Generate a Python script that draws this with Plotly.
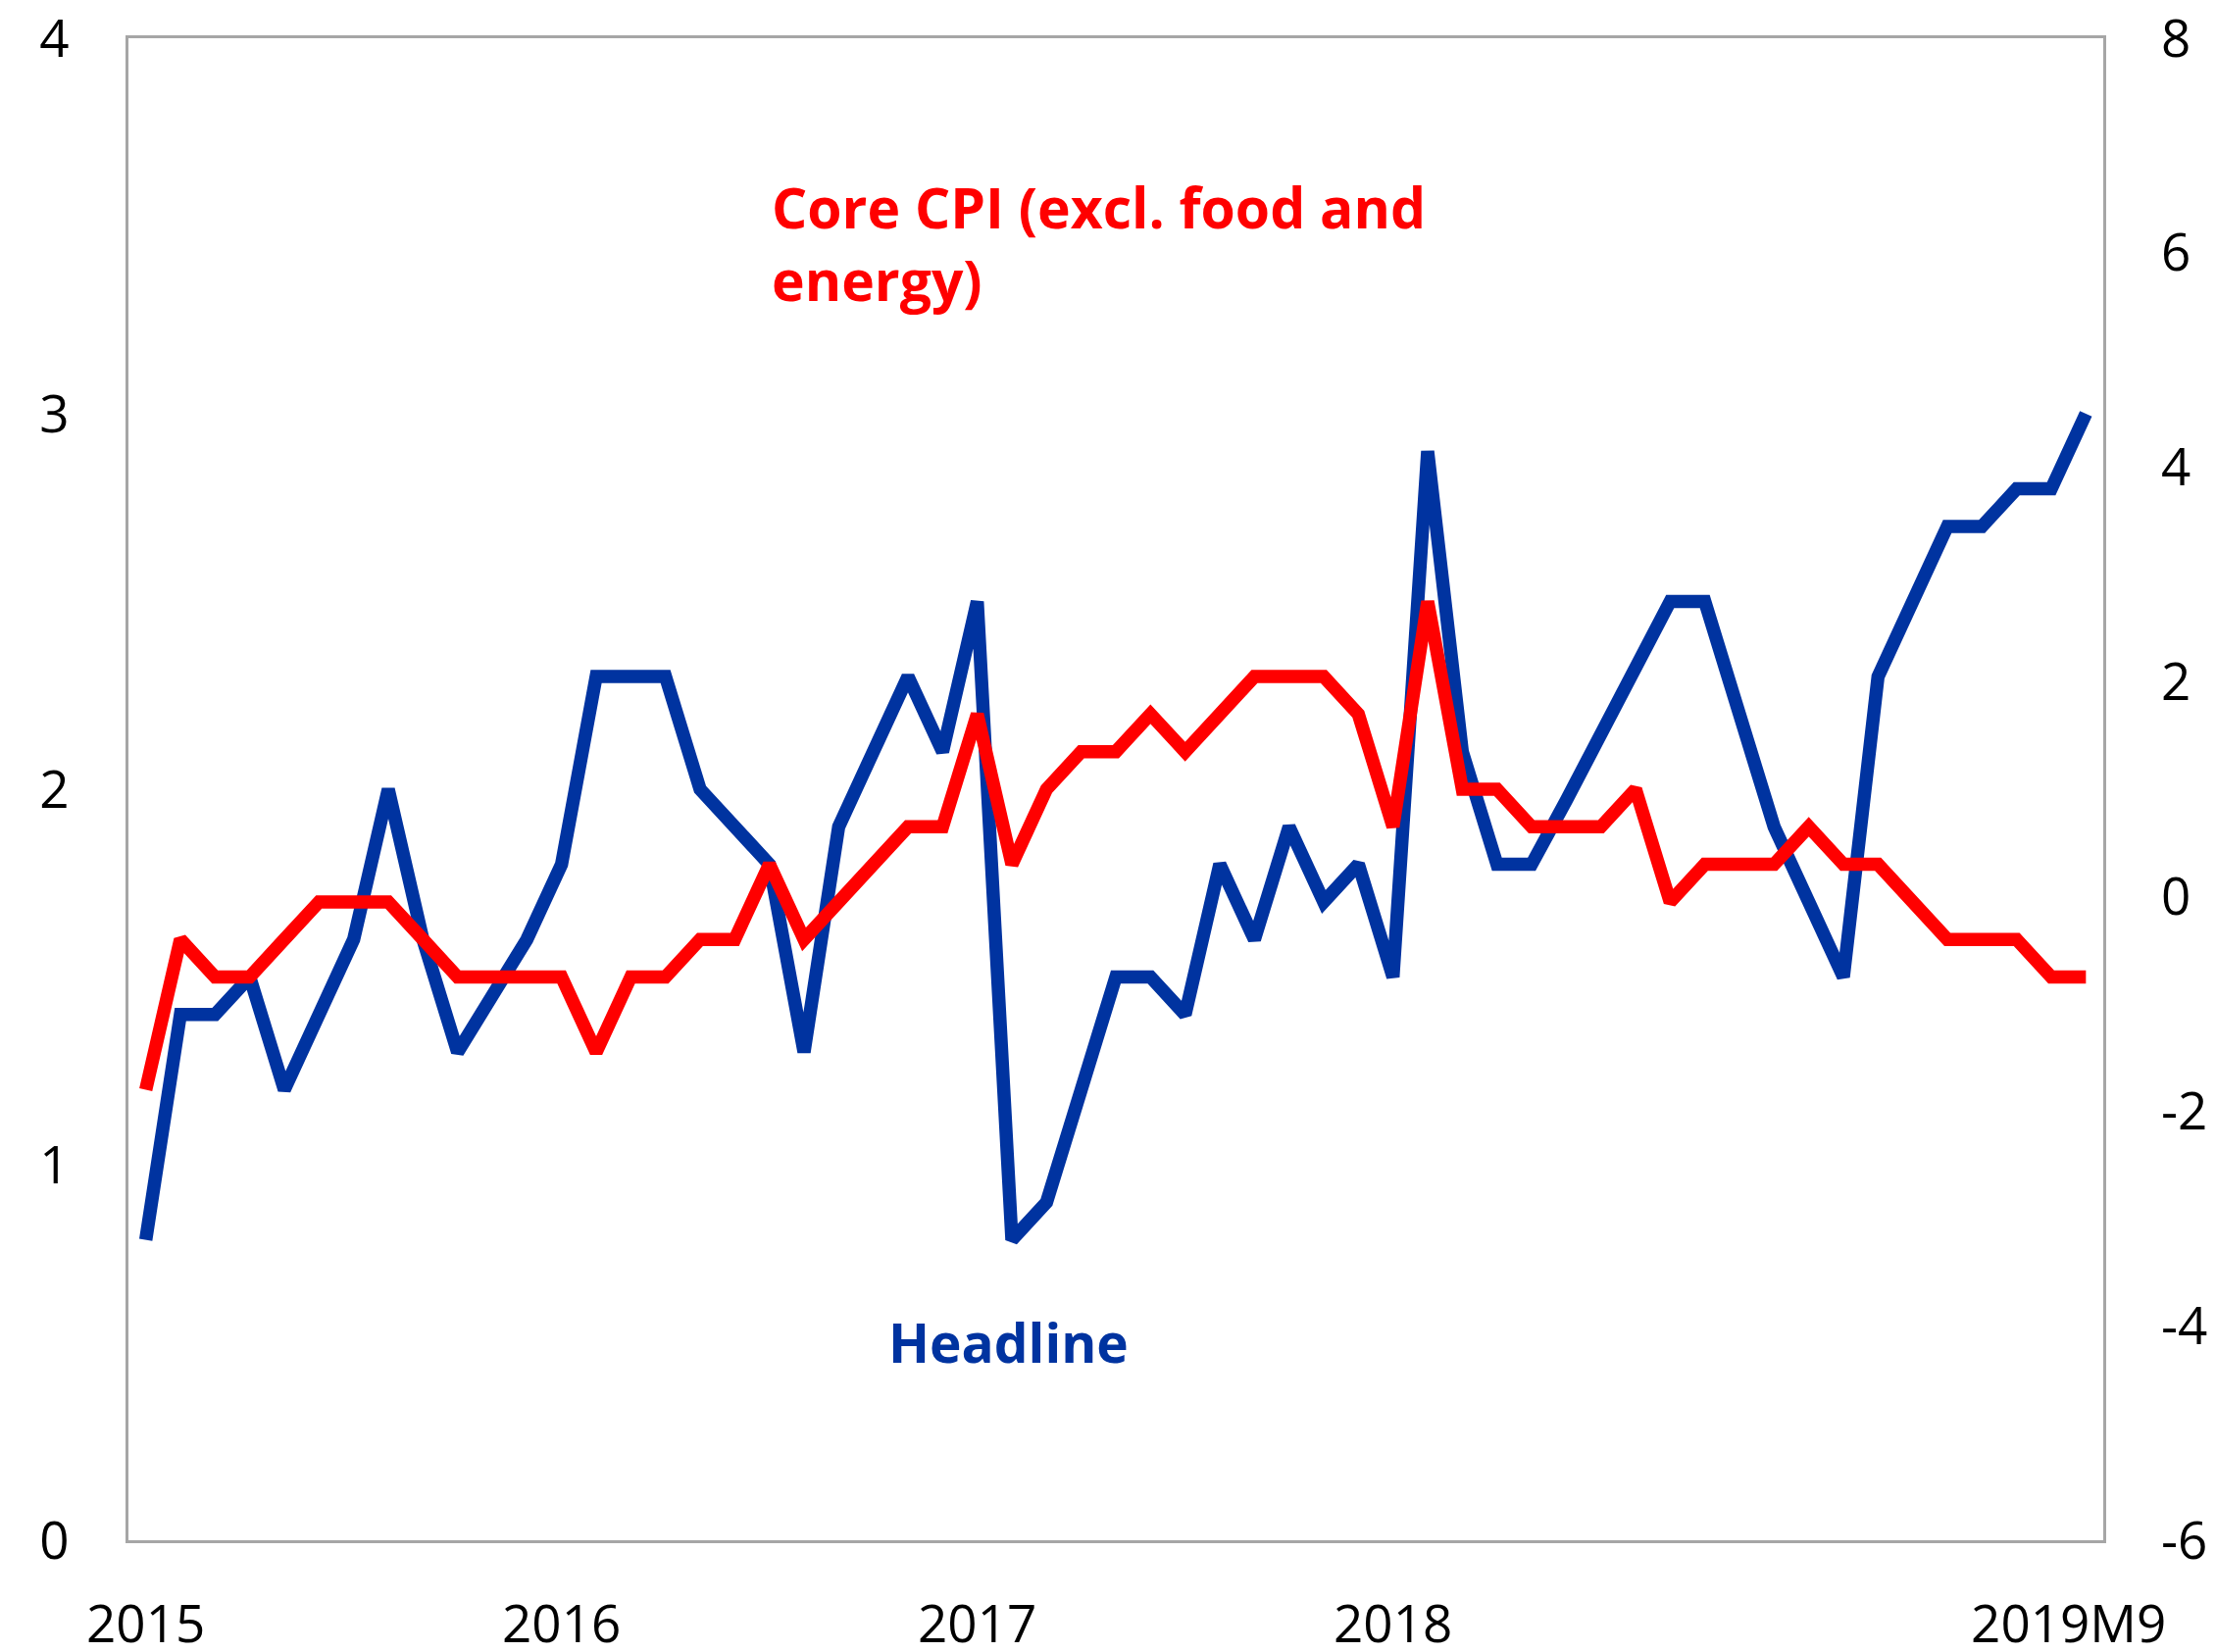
import plotly.graph_objects as go

# monthly, 2015M1 .. 2019M9
MONTHS = [f"{y}M{m}" for y in range(2015, 2020) for m in range(1, 13)][:57]

HEADLINE = [
    0.8, 1.4, 1.4, 1.5, 1.2, 1.4, 1.6, 2.0, 1.6, 1.3, 1.45, 1.6,
    1.8, 2.3, 2.3, 2.3, 2.0, 1.9, 1.8, 1.3, 1.9, 2.1, 2.3, 2.1,
    2.5, 0.8, 0.9, 1.2, 1.5, 1.5, 1.4, 1.8, 1.6, 1.9, 1.7, 1.8,
    1.5, 2.9, 2.1, 1.8, 1.8, 1.97, 2.15, 2.32, 2.5, 2.5, 2.2, 1.9,
    1.7, 1.5, 2.3, 2.5, 2.7, 2.7, 2.8, 2.8, 3.0,
]
CORE = [
    1.2, 1.6, 1.5, 1.5, 1.6, 1.7, 1.7, 1.7, 1.6, 1.5, 1.5, 1.5,
    1.5, 1.3, 1.5, 1.5, 1.6, 1.6, 1.8, 1.6, 1.7, 1.8, 1.9, 1.9,
    2.2, 1.8, 2.0, 2.1, 2.1, 2.2, 2.1, 2.2, 2.3, 2.3, 2.3, 2.2,
    1.9, 2.5, 2.0, 2.0, 1.9, 1.9, 1.9, 2.0, 1.7, 1.8, 1.8, 1.8,
    1.9, 1.8, 1.8, 1.7, 1.6, 1.6, 1.6, 1.5, 1.5,
]

# last label sits slightly left of the final month, as in the source chart
X_TICKS = [0, 12, 24, 36, 55.5]
X_TICK_TEXT = ["2015", "2016", "2017", "2018", "2019M9"]
Y2_TICKS = [-6, -4, -2, 0, 2, 4, 6, 8]
Y2_TICK_TEXT = ["-6", "-4", "-2", "0", "2", "4", "6", "8"]

BLUE = "#0033A0"
RED = "#FF0000"
GRID = "#A6A6A6"
FONT = "Open Sans"

x = list(range(len(MONTHS)))

fig = go.Figure()
fig.add_trace(go.Scatter(x=x, y=HEADLINE, mode="lines", name="Headline",
                         line=dict(color=BLUE, width=13.5), hovertext=MONTHS))
fig.add_trace(go.Scatter(x=x, y=CORE, mode="lines", name="Core CPI",
                         line=dict(color=RED, width=13.5), hovertext=MONTHS))
# right-hand scale
fig.add_trace(go.Scatter(x=[None], y=[None], yaxis="y2", showlegend=False, hoverinfo="skip"))

fig.add_annotation(x=18.0, y=3.455, xref="x", yref="y", xanchor="left", yanchor="middle",
                   align="left", showarrow=False,
                   text="<b>Core CPI (excl. food and<br>energy)</b>",
                   font=dict(family=FONT, size=57, color=RED))
fig.add_annotation(x=24.9, y=0.53, xref="x", yref="y", xanchor="center", yanchor="middle",
                   showarrow=False, text="<b>Headline</b>",
                   font=dict(family=FONT, size=55, color=BLUE))

fig.update_layout(
    width=2260, height=1685,
    margin=dict(l=131, r=115, t=39, b=114),
    paper_bgcolor="white", plot_bgcolor="white",
    showlegend=False,
    font=dict(family=FONT, size=53, color="black"),
    xaxis=dict(range=[-0.5, 56.5], tickvals=X_TICKS, ticktext=X_TICK_TEXT,
               showgrid=False, zeroline=False, showline=True, linecolor=GRID,
               linewidth=2.5, mirror=True, ticks="", ticklabelstandoff=38,
               automargin=False, ticklabeloverflow="allow"),
    yaxis=dict(range=[0, 4], dtick=1, showgrid=False, zeroline=False,
               showline=True, linecolor=GRID, linewidth=2.5, mirror=True,
               ticks="", ticklabelstandoff=47, automargin=False,
               ticklabeloverflow="allow"),
    yaxis2=dict(range=[-6, 8], tickvals=Y2_TICKS, ticktext=Y2_TICK_TEXT,
                overlaying="y", side="right",
                showgrid=False, zeroline=False, showline=False, ticks="",
                ticklabelstandoff=58, automargin=False,
                ticklabeloverflow="allow"),
)

# drop the page's default 8px body margin so the figure fills the window
fig.write_html("out.html", config={"displayModeBar": False},
               post_script="document.body.style.margin='0';")
